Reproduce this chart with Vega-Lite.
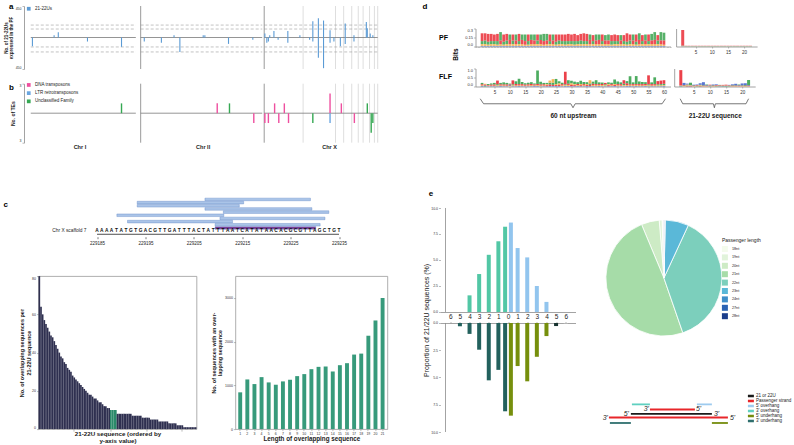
{
"padding": {"left": 2.5, "top": 2, "right": 0, "bottom": 0},
"spacing": 33,
"resolve": {"scale": {"color": "independent"}, "legend": {"color": "independent"}},
"datasets": {
"scaf": [{"pos":282},{"pos":315.3},{"pos":323.7},{"pos":332},{"pos":338.7},{"pos":343.7},{"pos":350.3},{"pos":355.3},{"pos":358.7}],
"chrdiv": [{"pos":115},{"pos":242}],
"segs": [{"x1":2,"x2":110},{"x1":115,"x2":240},{"x1":242,"x2":358.7}],
"dashA": [{"x1":2,"x2":110,"y":15},{"x1":115,"x2":240,"y":15},{"x1":242,"x2":358.7,"y":15},
{"x1":2,"x2":110,"y":6.6},{"x1":115,"x2":240,"y":6.6},{"x1":242,"x2":358.7,"y":6.6},
{"x1":2,"x2":110,"y":-8.2},{"x1":115,"x2":240,"y":-8.2},{"x1":242,"x2":358.7,"y":-8.2},
{"x1":2,"x2":110,"y":-22},{"x1":115,"x2":240,"y":-22},{"x1":242,"x2":358.7,"y":-22}],
"sRNA": [{"pos":3.7,"n":-7},{"pos":26,"n":1},{"pos":30.3,"n":3},{"pos":60.3,"n":-2},{"pos":95.3,"n":-8},
{"pos":118.7,"n":-2},{"pos":136.3,"n":-3},{"pos":149.3,"n":1},{"pos":155.3,"n":-22},{"pos":179.3,"n":1},{"pos":181,"n":1},{"pos":205.3,"n":-4},{"pos":230.3,"n":-1},
{"pos":242.7,"n":2},{"pos":244.7,"n":-3},{"pos":246.3,"n":-2},{"pos":247.7,"n":1},{"pos":252,"n":4},{"pos":256.3,"n":-1},{"pos":266.3,"n":4},{"pos":266.3,"n":-3},{"pos":278.7,"n":1},{"pos":288.7,"n":-1},
{"pos":292,"n":31},{"pos":292,"n":-2},{"pos":297.7,"n":54},{"pos":297.7,"n":-64},{"pos":303,"n":35},{"pos":303,"n":-390},{"pos":309.7,"n":5},{"pos":309.7,"n":-3},{"pos":313.7,"n":-2},{"pos":320.3,"n":-7},
{"pos":325.3,"n":20},{"pos":325.3,"n":-4},{"pos":334.3,"n":1},{"pos":334.3,"n":-2},{"pos":347,"n":27},{"pos":348,"n":8},{"pos":351,"n":2},{"pos":353.7,"n":1}],
"te": [{"pos":95.3,"n":1,"f":"Unclassified Family"},{"pos":193.7,"n":1,"f":"DNA transposons"},{"pos":206.3,"n":1,"f":"Unclassified Family"},{"pos":231.3,"n":-1,"f":"DNA transposons"},
{"pos":242.7,"n":-1,"f":"DNA transposons"},{"pos":246.3,"n":-1,"f":"DNA transposons"},{"pos":252.7,"n":1,"f":"DNA transposons"},{"pos":257,"n":-1,"f":"DNA transposons"},{"pos":262.7,"n":1,"f":"DNA transposons"},{"pos":267,"n":-1,"f":"DNA transposons"},
{"pos":292,"n":-1,"f":"Unclassified Family"},{"pos":309.7,"n":2,"f":"DNA transposons"},{"pos":309.7,"n":-1,"f":"LTR retrotransposons"},{"pos":321.3,"n":1,"f":"DNA transposons"},{"pos":334.7,"n":-1,"f":"DNA transposons"},
{"pos":348,"n":1,"f":"Unclassified Family"},{"pos":352,"n":-2,"f":"Unclassified Family"},{"pos":353.7,"n":-1,"f":"Unclassified Family"}],
"reads": [{"s":229207.3,"e":229229.1,"lane":1,"k":"read"},{"s":229193.3,"e":229215.3,"lane":2,"k":"read"},{"s":229193.3,"e":229214.4,"lane":3,"k":"read"},{"s":229207.3,"e":229229.4,"lane":4,"k":"read"},{"s":229211.1,"e":229232.9,"lane":5,"k":"read"},{"s":229189.1,"e":229211.2,"lane":6,"k":"read"},{"s":229210.4,"e":229232.1,"lane":7,"k":"read"},{"s":229191.3,"e":229213.0,"lane":8,"k":"read"},{"s":229209.4,"e":229231.1,"lane":9,"k":"read"},{"s":229209.4,"e":229230.2,"lane":10,"k":"target"}],
"seq": [{"p":229185,"b":"A"},{"p":229186,"b":"A"},{"p":229187,"b":"A"},{"p":229188,"b":"A"},{"p":229189,"b":"T"},{"p":229190,"b":"A"},{"p":229191,"b":"T"},{"p":229192,"b":"G"},{"p":229193,"b":"T"},{"p":229194,"b":"G"},{"p":229195,"b":"A"},{"p":229196,"b":"C"},{"p":229197,"b":"G"},{"p":229198,"b":"T"},{"p":229199,"b":"T"},{"p":229200,"b":"G"},{"p":229201,"b":"A"},{"p":229202,"b":"T"},{"p":229203,"b":"T"},{"p":229204,"b":"T"},{"p":229205,"b":"A"},{"p":229206,"b":"C"},{"p":229207,"b":"T"},{"p":229208,"b":"A"},{"p":229209,"b":"T"},{"p":229210,"b":"T"},{"p":229211,"b":"T"},{"p":229212,"b":"A"},{"p":229213,"b":"A"},{"p":229214,"b":"T"},{"p":229215,"b":"C"},{"p":229216,"b":"A"},{"p":229217,"b":"T"},{"p":229218,"b":"A"},{"p":229219,"b":"T"},{"p":229220,"b":"A"},{"p":229221,"b":"A"},{"p":229222,"b":"C"},{"p":229223,"b":"A"},{"p":229224,"b":"C"},{"p":229225,"b":"G"},{"p":229226,"b":"C"},{"p":229227,"b":"G"},{"p":229228,"b":"T"},{"p":229229,"b":"T"},{"p":229230,"b":"A"},{"p":229231,"b":"G"},{"p":229232,"b":"C"},{"p":229233,"b":"T"},{"p":229234,"b":"G"},{"p":229235,"b":"T"}],
"cbl": [{"i":0,"n":80,"g":"o"},{"i":1,"n":64,"g":"o"},{"i":2,"n":60,"g":"o"},{"i":3,"n":57,"g":"o"},{"i":4,"n":55,"g":"o"},{"i":5,"n":53,"g":"o"},{"i":6,"n":51,"g":"o"},{"i":7,"n":49,"g":"o"},{"i":8,"n":48,"g":"o"},{"i":9,"n":46,"g":"o"},
{"i":10,"n":44,"g":"o"},{"i":11,"n":42,"g":"o"},{"i":12,"n":40,"g":"o"},{"i":13,"n":38,"g":"o"},{"i":14,"n":37,"g":"o"},{"i":15,"n":35,"g":"o"},{"i":16,"n":34,"g":"o"},{"i":17,"n":32,"g":"o"},{"i":18,"n":31,"g":"o"},{"i":19,"n":30,"g":"o"},
{"i":20,"n":28,"g":"o"},{"i":21,"n":27,"g":"o"},{"i":22,"n":26,"g":"o"},{"i":23,"n":25,"g":"o"},{"i":24,"n":24,"g":"o"},{"i":25,"n":23,"g":"o"},{"i":26,"n":22,"g":"o"},{"i":27,"n":21,"g":"o"},{"i":28,"n":20,"g":"o"},{"i":29,"n":19,"g":"o"},
{"i":30,"n":18,"g":"o"},{"i":31,"n":18,"g":"o"},{"i":32,"n":17,"g":"o"},{"i":33,"n":16,"g":"o"},{"i":34,"n":16,"g":"o"},{"i":35,"n":15,"g":"o"},{"i":36,"n":14,"g":"o"},{"i":37,"n":14,"g":"o"},{"i":38,"n":13,"g":"o"},{"i":39,"n":12,"g":"o"},
{"i":40,"n":12,"g":"o"},{"i":41,"n":11,"g":"o"},{"i":42,"n":11,"g":"o"},{"i":43,"n":10,"g":"s"},{"i":44,"n":10,"g":"s"},{"i":45,"n":10,"g":"s"},{"i":46,"n":10,"g":"s"},{"i":47,"n":8,"g":"o"},{"i":48,"n":8,"g":"o"},{"i":49,"n":8,"g":"o"},
{"i":50,"n":8,"g":"o"},{"i":51,"n":8,"g":"o"},{"i":52,"n":8,"g":"o"},{"i":53,"n":8,"g":"o"},{"i":54,"n":8,"g":"o"},{"i":55,"n":8,"g":"o"},{"i":56,"n":7,"g":"o"},{"i":57,"n":7,"g":"o"},{"i":58,"n":7,"g":"o"},{"i":59,"n":7,"g":"o"},
{"i":60,"n":7,"g":"o"},{"i":61,"n":7,"g":"o"},{"i":62,"n":6,"g":"o"},{"i":63,"n":6,"g":"o"},{"i":64,"n":6,"g":"o"},{"i":65,"n":6,"g":"o"},{"i":66,"n":6,"g":"o"},{"i":67,"n":5,"g":"o"},{"i":68,"n":5,"g":"o"},{"i":69,"n":5,"g":"o"},
{"i":70,"n":5,"g":"o"},{"i":71,"n":5,"g":"o"},{"i":72,"n":4,"g":"o"},{"i":73,"n":4,"g":"o"},{"i":74,"n":4,"g":"o"},{"i":75,"n":4,"g":"o"},{"i":76,"n":4,"g":"o"},{"i":77,"n":4,"g":"o"},{"i":78,"n":3,"g":"o"},{"i":79,"n":3,"g":"o"},
{"i":80,"n":3,"g":"o"},{"i":81,"n":3,"g":"o"},{"i":82,"n":3,"g":"o"},{"i":83,"n":2,"g":"o"},{"i":84,"n":2,"g":"o"},{"i":85,"n":2,"g":"o"},{"i":86,"n":2,"g":"o"},{"i":87,"n":1,"g":"o"},{"i":88,"n":1,"g":"o"},{"i":89,"n":1,"g":"o"},
{"i":90,"n":1,"g":"o"},{"i":91,"n":1,"g":"o"},{"i":92,"n":1,"g":"o"},{"i":93,"n":1,"g":"o"},{"i":94,"n":1,"g":"o"}],
"cbr": [{"len":1,"n":841},{"len":2,"n":1136},{"len":3,"n":1030},{"len":4,"n":1189},{"len":5,"n":1068},{"len":6,"n":1015},{"len":7,"n":1091},{"len":8,"n":1129},{"len":9,"n":1212},{"len":10,"n":1258},{"len":11,"n":1371},{"len":12,"n":1424},{"len":13,"n":1432},{"len":14,"n":1318},{"len":15,"n":1462},{"len":16,"n":1508},{"len":17,"n":1705},{"len":18,"n":1727},{"len":19,"n":2136},{"len":20,"n":2485},{"len":21,"n":3000}],
"pfl": [{"p":1,"T":0.13,"A":0.05,"G":0.03,"C":0.01},{"p":2,"T":0.12,"A":0.06,"G":0.03,"C":0.01},{"p":3,"T":0.13,"A":0.05,"G":0.02,"C":0.01},{"p":4,"T":0.12,"A":0.05,"G":0.03,"C":0.01},{"p":5,"T":0.11,"A":0.05,"G":0.03,"C":0.01},{"p":6,"T":0.12,"A":0.06,"G":0.02,"C":0.01},{"p":7,"T":0.06,"A":0.14,"G":0.03,"C":0.01},{"p":8,"T":0.12,"A":0.05,"G":0.02,"C":0.01},{"p":9,"T":0.11,"A":0.06,"G":0.03,"C":0.01},{"p":10,"T":0.07,"A":0.09,"G":0.03,"C":0.01},
{"p":11,"T":0.10,"A":0.06,"G":0.03,"C":0.01},{"p":12,"T":0.06,"A":0.10,"G":0.03,"C":0.01},{"p":13,"T":0.12,"A":0.05,"G":0.03,"C":0.01},{"p":14,"T":0.07,"A":0.09,"G":0.03,"C":0.01},{"p":15,"T":0.06,"A":0.11,"G":0.02,"C":0.01},{"p":16,"T":0.11,"A":0.06,"G":0.02,"C":0.01},{"p":17,"T":0.07,"A":0.09,"G":0.03,"C":0.01},{"p":18,"T":0.06,"A":0.10,"G":0.03,"C":0.01},{"p":19,"T":0.10,"A":0.06,"G":0.03,"C":0.01},{"p":20,"T":0.07,"A":0.09,"G":0.03,"C":0.01},
{"p":21,"T":0.06,"A":0.12,"G":0.02,"C":0.01},{"p":22,"T":0.06,"A":0.11,"G":0.03,"C":0.01},{"p":23,"T":0.11,"A":0.05,"G":0.03,"C":0.01},{"p":24,"T":0.06,"A":0.10,"G":0.03,"C":0.01},{"p":25,"T":0.12,"A":0.05,"G":0.02,"C":0.01},{"p":26,"T":0.10,"A":0.06,"G":0.03,"C":0.01},{"p":27,"T":0.11,"A":0.05,"G":0.03,"C":0.01},{"p":28,"T":0.11,"A":0.06,"G":0.02,"C":0.01},{"p":29,"T":0.12,"A":0.05,"G":0.03,"C":0.01},{"p":30,"T":0.11,"A":0.05,"G":0.03,"C":0.01},
{"p":31,"T":0.12,"A":0.06,"G":0.02,"C":0.01},{"p":32,"T":0.10,"A":0.05,"G":0.03,"C":0.01},{"p":33,"T":0.11,"A":0.06,"G":0.03,"C":0.01},{"p":34,"T":0.13,"A":0.05,"G":0.03,"C":0.01},{"p":35,"T":0.12,"A":0.05,"G":0.03,"C":0.01},{"p":36,"T":0.07,"A":0.09,"G":0.03,"C":0.01},{"p":37,"T":0.10,"A":0.05,"G":0.03,"C":0.01},{"p":38,"T":0.06,"A":0.10,"G":0.03,"C":0.01},{"p":39,"T":0.07,"A":0.09,"G":0.03,"C":0.01},{"p":40,"T":0.11,"A":0.05,"G":0.03,"C":0.01},
{"p":41,"T":0.06,"A":0.09,"G":0.03,"C":0.01},{"p":42,"T":0.06,"A":0.10,"G":0.03,"C":0.01},{"p":43,"T":0.10,"A":0.06,"G":0.02,"C":0.01},{"p":44,"T":0.11,"A":0.05,"G":0.03,"C":0.01},{"p":45,"T":0.10,"A":0.05,"G":0.03,"C":0.01},{"p":46,"T":0.06,"A":0.09,"G":0.03,"C":0.01},{"p":47,"T":0.10,"A":0.05,"G":0.03,"C":0.01},{"p":48,"T":0.14,"A":0.05,"G":0.02,"C":0.01},{"p":49,"T":0.10,"A":0.06,"G":0.03,"C":0.01},{"p":50,"T":0.06,"A":0.10,"G":0.03,"C":0.01},
{"p":51,"T":0.12,"A":0.05,"G":0.02,"C":0.01},{"p":52,"T":0.07,"A":0.11,"G":0.03,"C":0.01},{"p":53,"T":0.10,"A":0.05,"G":0.03,"C":0.01},{"p":54,"T":0.06,"A":0.10,"G":0.03,"C":0.01},{"p":55,"T":0.11,"A":0.05,"G":0.03,"C":0.01},{"p":56,"T":0.06,"A":0.11,"G":0.03,"C":0.01},{"p":57,"T":0.07,"A":0.13,"G":0.03,"C":0.01},{"p":58,"T":0.09,"A":0.06,"G":0.03,"C":0.01},{"p":59,"T":0.06,"A":0.14,"G":0.03,"C":0.01},{"p":60,"T":0.07,"A":0.13,"G":0.02,"C":0.01}],
"flfl": [{"p":1,"T":0.05,"A":0.08,"G":0.04,"C":0.03},{"p":2,"T":0.04,"A":0.03,"G":0.05,"C":0.03},{"p":3,"T":0.03,"A":0.06,"G":0.03,"C":0.02},{"p":4,"T":0.05,"A":0.07,"G":0.03,"C":0.02},{"p":5,"T":0.06,"A":0.09,"G":0.03,"C":0.02},{"p":6,"T":0.2,"A":0.07,"G":0.04,"C":0.02},{"p":7,"T":0.06,"A":0.08,"G":0.03,"C":0.03},{"p":8,"T":0.05,"A":0.12,"G":0.04,"C":0.02},{"p":9,"T":0.06,"A":0.09,"G":0.03,"C":0.02},{"p":10,"T":0.04,"A":0.05,"G":0.03,"C":0.04},
{"p":11,"T":0.22,"A":0.06,"G":0.04,"C":0.02},{"p":12,"T":0.08,"A":0.15,"G":0.04,"C":0.02},{"p":13,"T":0.06,"A":0.3,"G":0.04,"C":0.03},{"p":14,"T":0.07,"A":0.12,"G":0.04,"C":0.02},{"p":15,"T":0.05,"A":0.08,"G":0.03,"C":0.02},{"p":16,"T":0.06,"A":0.09,"G":0.04,"C":0.02},{"p":17,"T":0.07,"A":0.1,"G":0.05,"C":0.02},{"p":18,"T":0.05,"A":0.06,"G":0.03,"C":0.03},{"p":19,"T":0.06,"A":0.75,"G":0.05,"C":0.03},{"p":20,"T":0.05,"A":0.15,"G":0.04,"C":0.02},
{"p":21,"T":0.06,"A":0.08,"G":0.04,"C":0.02},{"p":22,"T":0.05,"A":0.07,"G":0.06,"C":0.02},{"p":23,"T":0.08,"A":0.1,"G":0.12,"C":0.03},{"p":24,"T":0.06,"A":0.12,"G":0.2,"C":0.03},{"p":25,"T":0.05,"A":0.28,"G":0.06,"C":0.03},{"p":26,"T":0.06,"A":0.12,"G":0.08,"C":0.03},{"p":27,"T":0.06,"A":0.08,"G":0.05,"C":0.02},{"p":28,"T":0.7,"A":0.05,"G":0.04,"C":0.03},{"p":29,"T":0.06,"A":0.2,"G":0.06,"C":0.03},{"p":30,"T":0.07,"A":0.15,"G":0.08,"C":0.02},
{"p":31,"T":0.05,"A":0.14,"G":0.06,"C":0.02},{"p":32,"T":0.06,"A":0.1,"G":0.05,"C":0.03},{"p":33,"T":0.05,"A":0.18,"G":0.07,"C":0.02},{"p":34,"T":0.06,"A":0.12,"G":0.05,"C":0.02},{"p":35,"T":0.05,"A":0.1,"G":0.06,"C":0.03},{"p":36,"T":0.06,"A":0.08,"G":0.18,"C":0.03},{"p":37,"T":0.07,"A":0.12,"G":0.06,"C":0.02},{"p":38,"T":0.06,"A":0.22,"G":0.05,"C":0.02},{"p":39,"T":0.05,"A":0.1,"G":0.05,"C":0.03},{"p":40,"T":0.06,"A":0.08,"G":0.06,"C":0.02},
{"p":41,"T":0.08,"A":0.06,"G":0.04,"C":0.02},{"p":42,"T":0.05,"A":0.1,"G":0.06,"C":0.02},{"p":43,"T":0.06,"A":0.08,"G":0.05,"C":0.02},{"p":44,"T":0.05,"A":0.25,"G":0.06,"C":0.03},{"p":45,"T":0.06,"A":0.15,"G":0.05,"C":0.02},{"p":46,"T":0.07,"A":0.1,"G":0.04,"C":0.02},{"p":47,"T":0.2,"A":0.08,"G":0.05,"C":0.02},{"p":48,"T":0.1,"A":0.12,"G":0.05,"C":0.03},{"p":49,"T":0.05,"A":0.45,"G":0.04,"C":0.03},{"p":50,"T":0.06,"A":0.1,"G":0.05,"C":0.02},
{"p":51,"T":0.05,"A":0.45,"G":0.05,"C":0.03},{"p":52,"T":0.06,"A":0.15,"G":0.05,"C":0.02},{"p":53,"T":0.07,"A":0.12,"G":0.04,"C":0.02},{"p":54,"T":0.06,"A":0.1,"G":0.05,"C":0.03},{"p":55,"T":0.5,"A":0.06,"G":0.04,"C":0.02},{"p":56,"T":0.07,"A":0.1,"G":0.04,"C":0.02},{"p":57,"T":0.06,"A":0.38,"G":0.05,"C":0.02},{"p":58,"T":0.18,"A":0.06,"G":0.04,"C":0.02},{"p":59,"T":0.2,"A":0.07,"G":0.04,"C":0.02},{"p":60,"T":0.2,"A":0.08,"G":0.04,"C":0.03}],
"pfr": [{"p":1,"T":0.26,"A":0.006,"G":0.005,"C":0.004},{"p":2,"T":0.004,"A":0.003,"G":0.003,"C":0.002},{"p":3,"T":0.004,"A":0.003,"G":0.003,"C":0.002},{"p":4,"T":0.004,"A":0.003,"G":0.003,"C":0.002},{"p":5,"T":0.004,"A":0.003,"G":0.003,"C":0.002},{"p":6,"T":0.004,"A":0.003,"G":0.003,"C":0.002},{"p":7,"T":0.004,"A":0.003,"G":0.003,"C":0.002},{"p":8,"T":0.004,"A":0.003,"G":0.003,"C":0.002},{"p":9,"T":0.004,"A":0.003,"G":0.003,"C":0.002},{"p":10,"T":0.004,"A":0.003,"G":0.003,"C":0.002},{"p":11,"T":0.004,"A":0.003,"G":0.003,"C":0.002},{"p":12,"T":0.004,"A":0.003,"G":0.003,"C":0.002},{"p":13,"T":0.004,"A":0.003,"G":0.003,"C":0.002},{"p":14,"T":0.004,"A":0.003,"G":0.003,"C":0.002},{"p":15,"T":0.004,"A":0.003,"G":0.003,"C":0.002},{"p":16,"T":0.004,"A":0.003,"G":0.003,"C":0.002},{"p":17,"T":0.004,"A":0.003,"G":0.003,"C":0.002},{"p":18,"T":0.004,"A":0.003,"G":0.003,"C":0.002},{"p":19,"T":0.004,"A":0.003,"G":0.003,"C":0.002},{"p":20,"T":0.004,"A":0.003,"G":0.003,"C":0.002},{"p":21,"T":0.004,"A":0.003,"G":0.003,"C":0.002},{"p":22,"T":0.004,"A":0.003,"G":0.003,"C":0.002}],
"flfr": [{"p":1,"T":0.85,"A":0.02,"G":0.02,"C":0.02},{"p":2,"T":0.03,"A":0.03,"G":0.02,"C":0.12},{"p":3,"T":0.02,"A":0.03,"G":0.05,"C":0.06},{"p":4,"T":0.02,"A":0.13,"G":0.03,"C":0.03},{"p":5,"T":0.02,"A":0.03,"G":0.02,"C":0.03},{"p":6,"T":0.03,"A":0.02,"G":0.02,"C":0.04},{"p":7,"T":0.02,"A":0.03,"G":0.04,"C":0.09},{"p":8,"T":0.02,"A":0.03,"G":0.02,"C":0.17},{"p":9,"T":0.02,"A":0.04,"G":0.02,"C":0.03},{"p":10,"T":0.03,"A":0.02,"G":0.02,"C":0.03},{"p":11,"T":0.02,"A":0.03,"G":0.02,"C":0.04},
{"p":12,"T":0.03,"A":0.02,"G":0.02,"C":0.05},{"p":13,"T":0.02,"A":0.03,"G":0.02,"C":0.02},{"p":14,"T":0.03,"A":0.02,"G":0.02,"C":0.02},{"p":15,"T":0.04,"A":0.02,"G":0.02,"C":0.02},{"p":16,"T":0.02,"A":0.02,"G":0.02,"C":0.03},{"p":17,"T":0.02,"A":0.03,"G":0.02,"C":0.05},{"p":18,"T":0.02,"A":0.03,"G":0.02,"C":0.08},{"p":19,"T":0.02,"A":0.04,"G":0.02,"C":0.03},{"p":20,"T":0.02,"A":0.03,"G":0.02,"C":0.1},{"p":21,"T":0.02,"A":0.04,"G":0.02,"C":0.1},{"p":22,"T":0.02,"A":0.28,"G":0.02,"C":0.04}],
"brace60": [{"o":1,"bx":0.4,"by":-0.68},{"o":2,"bx":1.5,"by":-0.96},{"o":3,"bx":29.8,"by":-0.96},{"o":4,"bx":30.5,"by":-1.18},{"o":5,"bx":31.2,"by":-0.96},{"o":6,"bx":59.4,"by":-0.96},{"o":7,"bx":60.5,"by":-0.68}],
"brace22": [{"o":1,"bx":0.8,"by":-0.68},{"o":2,"bx":1.6,"by":-0.96},{"o":3,"bx":11.1,"by":-0.96},{"o":4,"bx":11.4,"by":-1.18},{"o":5,"bx":11.7,"by":-0.96},{"o":6,"bx":21.2,"by":-0.96},{"o":7,"bx":22,"by":-0.68}],
"etop": [{"x":-4,"v":1.6,"g":"3o"},{"x":-3,"v":3.65,"g":"3o"},{"x":-2,"v":5.5,"g":"3o"},{"x":-1,"v":6.8,"g":"3o"},{"x":-0.3,"v":8.2,"g":"3o"},{"x":0.3,"v":8.6,"g":"5o"},{"x":1,"v":6.15,"g":"5o"},{"x":2,"v":5.25,"g":"5o"},{"x":3,"v":2.5,"g":"5o"},{"x":4,"v":0.97,"g":"5o"}],
"ebot": [{"x":-5,"v":0.3,"g":"3u"},{"x":-4,"v":1.0,"g":"3u"},{"x":-3,"v":2.45,"g":"3u"},{"x":-2,"v":5.26,"g":"3u"},{"x":-1,"v":4.3,"g":"3u"},{"x":-0.3,"v":8.1,"g":"3u"},{"x":0.3,"v":8.5,"g":"5u"},{"x":1,"v":3.95,"g":"5u"},{"x":2,"v":5.35,"g":"5u"},{"x":3,"v":3.1,"g":"5u"},{"x":4,"v":1.2,"g":"5u"},{"x":5,"v":0.28,"g":"dk"},{"x":6,"v":0.05,"g":"lt"}],
"pie": [{"len":"18nt","n":18,"pct":0.5},{"len":"19nt","n":19,"pct":0.8},{"len":"20nt","n":20,"pct":5},{"len":"21nt","n":21,"pct":49},{"len":"22nt","n":22,"pct":37.8},{"len":"23nt","n":23,"pct":6.5},{"len":"24nt","n":24,"pct":0.2},{"len":"27nt","n":27,"pct":0.1},{"len":"28nt","n":28,"pct":0.1}],
"diag": [{"x1":1,"x2":40.67,"y":24,"c":"Passenger strand"},{"x1":14.67,"x2":29.67,"y":13,"c":"Passenger strand"},{"x1":8.33,"x2":35.33,"y":19,"c":"21 or 22U"},{"x1":8.67,"x2":14.67,"y":6,"c":"3' overhang"},{"x1":30.33,"x2":35.33,"y":6,"c":"5' overhang"},{"x1":1.33,"x2":8.33,"y":31.5,"c":"3' underhang"},{"x1":35.33,"x2":40.67,"y":31.5,"c":"5' underhang"}],
"endsR": [{"x":14.33,"y":13,"t":"3'"},{"x":7.67,"y":19,"t":"5'"},{"x":0.67,"y":24.3,"t":"3'"}],
"endsL": [{"x":30,"y":13,"t":"5'"},{"x":36,"y":19,"t":"3'"},{"x":41.33,"y":24.3,"t":"5'"}]
},
"hconcat": [
{
"vconcat": [
{
"width": 365.5, "height": 63,
"layer": [
{"data": {"name": "scaf"}, "mark": {"type": "rule", "color": "#dedede", "strokeWidth": 1},
 "encoding": {"x": {"field": "pos", "type": "quantitative", "scale": {"domain": [-6.5, 359], "nice": false, "zero": false}, "axis": null}}},
{"data": {"name": "chrdiv"}, "mark": {"type": "rule", "color": "#9a9a9a", "strokeWidth": 1},
 "encoding": {"x": {"field": "pos", "type": "quantitative", "axis": null}}},
{"data": {"name": "dashA"}, "mark": {"type": "rule", "color": "#9a9a9a", "strokeWidth": 0.6, "strokeDash": [3, 2]},
 "encoding": {"x": {"field": "x1", "type": "quantitative", "axis": null}, "x2": {"field": "x2"}, "y": {"field": "y", "type": "quantitative", "scale": {"type": "symlog", "constant": 2, "domain": [-450, 450], "nice": false}}}},
{"data": {"name": "segs"}, "mark": {"type": "rule", "color": "#7a7a7a", "strokeWidth": 0.8},
 "encoding": {"x": {"field": "x1", "type": "quantitative", "axis": null}, "x2": {"field": "x2"}, "y": {"datum": 0}}},
{"data": {"name": "sRNA"}, "mark": {"type": "bar", "width": 1.1, "orient": "vertical"},
 "encoding": {
  "x": {"field": "pos", "type": "quantitative", "axis": null},
  "y": {"field": "n", "type": "quantitative", "scale": {"type": "symlog", "constant": 2, "domain": [-450, 450], "nice": false}, "axis": {"values": [-450, -10, 0, 10, 450], "labelExpr": "abs(datum.value)", "labelFlush": true, "labelOverlap": false, "title": ["No. of 21-22Us", "expressed in the PF"], "titleFontSize": 4.5, "titleLineHeight": 5, "labelFontSize": 3.5, "offset": -6.5, "titlePadding": 2}},
  "y2": {"datum": 0},
  "color": {"datum": "21-22Us", "type": "nominal", "scale": {"range": ["#5b9bd5"]}, "legend": {"orient": "none", "legendX": 9, "legendY": 0.5, "title": null, "symbolType": "square", "symbolSize": 14, "labelFontSize": 4.5}}}},
{"data": {"values": [{}]}, "mark": {"type": "text", "text": "a", "fontSize": 8, "fontWeight": "bold", "align": "left", "baseline": "middle"},
 "encoding": {"x": {"datum": -20.5}, "y": {"datum": 380}}}
]
},
{
"width": 365.5, "height": 59,
"layer": [
{"data": {"name": "scaf"}, "mark": {"type": "rule", "color": "#dedede", "strokeWidth": 1},
 "encoding": {"x": {"field": "pos", "type": "quantitative", "scale": {"domain": [-6.5, 359], "nice": false, "zero": false}}}},
{"data": {"name": "chrdiv"}, "mark": {"type": "rule", "color": "#9a9a9a", "strokeWidth": 1},
 "encoding": {"x": {"field": "pos", "type": "quantitative"}}},
{"data": {"name": "segs"}, "mark": {"type": "rule", "color": "#7a7a7a", "strokeWidth": 0.8},
 "encoding": {"x": {"field": "x1", "type": "quantitative"}, "x2": {"field": "x2"}, "y": {"datum": 0}}},
{"data": {"name": "te"}, "mark": {"type": "bar", "width": 1.4, "orient": "vertical"},
 "encoding": {
  "x": {"field": "pos", "type": "quantitative", "axis": {"values": [52, 178.7, 308.7], "labelExpr": "datum.value < 100 ? 'Chr I' : (datum.value < 250 ? 'Chr II' : 'Chr X')", "labelOverlap": false, "domain": false, "ticks": false, "labelFontSize": 5.5, "labelFontWeight": "bold", "labelColor": "#222222", "labelPadding": 1.5, "title": null}},
  "y": {"field": "n", "type": "quantitative", "scale": {"domain": [-3, 3], "nice": false}, "axis": {"values": [-3, 0, 3], "labelExpr": "abs(datum.value)", "labelFlush": true, "title": "No. of TEs", "titleFontSize": 5, "labelFontSize": 3.5, "offset": -6.5, "titlePadding": 4}},
  "y2": {"datum": 0},
  "color": {"field": "f", "type": "nominal", "scale": {"domain": ["DNA transposons", "LTR retrotransposons", "Unclassified Family"], "range": ["#ee4f9f", "#6aa6e0", "#35a853"]}, "legend": {"orient": "none", "legendX": 9, "legendY": -1, "title": null, "symbolType": "square", "symbolSize": 14, "labelFontSize": 4.5, "rowPadding": 2.2}}}},
{"data": {"values": [{}]}, "mark": {"type": "text", "text": "b", "fontSize": 8, "fontWeight": "bold", "align": "left", "baseline": "middle"},
 "encoding": {"x": {"datum": -20.5}, "y": {"datum": 2.56}}}
]
},
{
"width": 365.5, "height": 99.9,
"layer": [
{"data": {"name": "reads"}, "mark": {"type": "bar", "orient": "horizontal", "height": 2.6, "stroke": "#5f86c4", "strokeWidth": 0.4},
 "encoding": {"x": {"field": "s", "type": "quantitative", "scale": {"domain": [229168.57, 229244.09], "nice": false, "zero": false}}, "x2": {"field": "e"},
  "y": {"field": "lane", "type": "quantitative", "scale": {"domain": [-9.11, 19.27], "nice": false, "zero": false, "reverse": true}, "axis": null},
  "color": {"field": "k", "type": "nominal", "scale": {"domain": ["read", "target"], "range": ["#aac4e8", "#7b3f98"]}, "legend": null}}},
{"data": {"values": [{}]}, "mark": {"type": "rule", "color": "#222222", "strokeWidth": 0.8},
 "encoding": {"x": {"datum": 229185}, "x2": {"datum": 229235}, "y": {"datum": 12, "axis": null}}},
{"data": {"name": "seq"}, "mark": {"type": "text", "fontSize": 4.8, "fontWeight": "bold", "baseline": "middle", "color": "#111111"},
 "encoding": {"x": {"field": "p", "type": "quantitative", "axis": {"values": [229185, 229190, 229195, 229200, 229205, 229210, 229215, 229220, 229225, 229230, 229235], "format": "d", "labelExpr": "(datum.value - 229185) % 10 == 0 ? datum.label : ''", "labelOverlap": false, "domain": false, "tickColor": "#222222", "tickSize": 2, "labelFontSize": 4.5, "labelColor": "#222222", "labelPadding": 1.5, "offset": -25.6, "title": null}},
  "y": {"datum": 11, "axis": null}, "text": {"field": "b"}}},
{"data": {"values": [{}]}, "mark": {"type": "text", "text": "Chr X scaffold 7", "fontSize": 4.8, "align": "right", "baseline": "middle", "color": "#222222"},
 "encoding": {"x": {"datum": 229182.8}, "y": {"datum": 11, "axis": null}}},
{"data": {"values": [{}]}, "mark": {"type": "text", "text": "c", "fontSize": 8, "fontWeight": "bold", "align": "left", "baseline": "middle"},
 "encoding": {"x": {"datum": 229165.68}, "y": {"datum": 2.7, "axis": null}}}
]
},
{
"hconcat": [
{"width": 1, "height": 1, "data": {"values": []}, "mark": "point"},
{
"hconcat": [
{
"width": 158, "height": 153,
"view": {"stroke": "#9a9a9a", "strokeWidth": 0.8},
"data": {"name": "cbl"},
"mark": {"type": "bar"},
"encoding": {
 "x": {"field": "i", "type": "ordinal", "scale": {"paddingInner": 0, "paddingOuter": 0}, "axis": {"values": [21, 43, 65, 86], "labels": false, "tickSize": 2, "domain": false, "title": ["21-22U sequence (ordered by", "y-axis value)"], "titleFontSize": 6.2, "titleLineHeight": 7.5, "titlePadding": -1}},
 "y": {"field": "n", "type": "quantitative", "scale": {"domain": [0, 80], "nice": false}, "axis": {"values": [0, 20, 40, 60, 80], "labelFlush": true, "domain": false, "labelFontSize": 3.5, "title": ["No. of overlapping sequences per", "21-22U sequence"], "titleFontSize": 5.5, "titleLineHeight": 6.5, "titlePadding": 0.5}},
 "color": {"field": "g", "type": "nominal", "scale": {"domain": ["o", "s"], "range": ["#2f3050", "#2b8a6a"]}, "legend": null}}
},
{
"width": 152, "height": 153,
"view": {"stroke": "#9a9a9a", "strokeWidth": 0.8},
"data": {"name": "cbr"},
"mark": {"type": "bar", "color": "#379a7b"},
"encoding": {
 "x": {"field": "len", "type": "ordinal", "scale": {"paddingInner": 0.45, "paddingOuter": 0.4}, "axis": {"labelAngle": 0, "labelOverlap": false, "labelFontSize": 3.5, "tickSize": 1.5, "domain": false, "title": "Length of overlapping sequence", "titleFontSize": 6.3, "titlePadding": 0}},
 "y": {"field": "n", "type": "quantitative", "scale": {"domain": [0, 3500], "nice": false}, "axis": {"values": [0, 1000, 2000, 3000], "format": "d", "domain": false, "labelFontSize": 3.5, "title": ["No. of sequences with an over-", "lapping sequence"], "titleFontSize": 5.5, "titleLineHeight": 6.5}}}
}
],
"spacing": 12.9,
"resolve": {"scale": {"color": "independent"}, "legend": {"color": "independent"}}
}
],
"spacing": 0,
"resolve": {"scale": {"color": "independent"}, "legend": {"color": "independent"}}
}
],
"spacing": 12.7,
"resolve": {"scale": {"color": "independent"}, "legend": {"color": "independent"}}
},
{
"vconcat": [
{
"width": 10, "height": 4,
"data": {"values": [{}]},
"mark": {"type": "text", "text": "d", "fontSize": 8, "fontWeight": "bold", "align": "left", "baseline": "middle", "color": "#000000"},
"encoding": {"x": {"datum": -18, "scale": {"domain": [0, 10], "nice": false, "zero": false}, "axis": null}, "y": {"datum": 1, "scale": {"domain": [0, 4], "nice": false, "zero": false, "reverse": true}, "axis": null}}
},
{
"vconcat": [
{
"hconcat": [
{
"width": 23.2, "height": 57,
"layer": [
{"data": {"values": [{}]}, "mark": {"type": "text", "text": "PF", "fontSize": 7, "fontWeight": "bold", "baseline": "middle", "align": "center"},
 "encoding": {"x": {"datum": 3, "scale": {"domain": [0, 23.2], "nice": false, "zero": false}, "axis": null}, "y": {"datum": 9, "scale": {"domain": [0, 57], "nice": false, "zero": false, "reverse": true}, "axis": null}}},
{"data": {"values": [{}]}, "mark": {"type": "text", "text": "FLF", "fontSize": 7, "fontWeight": "bold", "baseline": "middle", "align": "center"},
 "encoding": {"x": {"datum": 5, "axis": null}, "y": {"datum": 48, "axis": null}}},
{"data": {"values": [{}]}, "mark": {"type": "text", "text": "Bits", "fontSize": 6.5, "fontWeight": "bold", "baseline": "middle", "align": "center", "angle": 270},
 "encoding": {"x": {"datum": 15, "axis": null}, "y": {"datum": 26, "axis": null}}}
]
},
{
"vconcat": [
{
"hconcat": [
{
"width": 195, "height": 18,
"data": {"name": "pfl"}, "transform": [{"fold": ["A", "C", "G", "T"], "as": ["nt", "v"]}],
"mark": {"type": "bar", "width": 2.7, "opacity": 0.8, "orient": "vertical"},
"encoding": {
 "x": {"field": "p", "type": "quantitative", "scale": {"domain": [0.5, 60.5], "nice": false, "zero": false}, "axis": {"tickCount": 60, "labels": false, "tickSize": 1, "title": null}},
 "y": {"field": "v", "type": "quantitative", "stack": "zero", "scale": {"domain": [0, 0.3], "nice": false}, "axis": {"values": [0, 0.15, 0.3], "labelExpr": "datum.value == 0 ? '0.0' : format(datum.value, '.2~f')", "labelFlush": true, "labelOverlap": false, "labelFontSize": 4, "title": null}},
 "color": {"field": "nt", "type": "nominal", "scale": {"domain": ["A", "C", "G", "T"], "range": ["#2e9e44", "#3b5fc9", "#f2a93b", "#e8202a"]}, "legend": null},
 "order": {"field": "v", "sort": "ascending"}}
},
{
"width": 81, "height": 18,
"data": {"name": "pfr"}, "transform": [{"fold": ["A", "C", "G", "T"], "as": ["nt", "v"]}],
"mark": {"type": "bar", "width": 3, "opacity": 0.8, "orient": "vertical"},
"encoding": {
 "x": {"field": "p", "type": "quantitative", "scale": {"domain": [0.5, 22.5], "nice": false, "zero": false}, "axis": {"values": [5, 10, 15, 20], "labelOverlap": false, "labelFontSize": 4.5, "tickSize": 1.5, "title": null}},
 "y": {"field": "v", "type": "quantitative", "stack": "zero", "scale": {"domain": [0, 0.3], "nice": false}, "axis": {"labels": false, "ticks": false, "title": null}},
 "color": {"field": "nt", "type": "nominal", "scale": {"domain": ["A", "C", "G", "T"], "range": ["#2e9e44", "#3b5fc9", "#f2a93b", "#e8202a"]}, "legend": null},
 "order": {"field": "v", "sort": "ascending"}}
}
],
"spacing": 4.6
},
{
"hconcat": [
{
"width": 195, "height": 18,
"layer": [
{"data": {"name": "flfl"}, "transform": [{"fold": ["A", "C", "G", "T"], "as": ["nt", "v"]}],
 "mark": {"type": "bar", "width": 2.7, "opacity": 0.85, "orient": "vertical"},
 "encoding": {
  "x": {"field": "p", "type": "quantitative", "scale": {"domain": [0.5, 60.5], "nice": false, "zero": false}, "axis": {"values": [5, 10, 15, 20, 25, 30, 35, 40, 45, 50, 55, 60], "labelOverlap": false, "labelFontSize": 4.5, "tickSize": 1.5, "title": "60 nt upstream", "titleFontSize": 6.5, "titlePadding": 18.5}},
  "y": {"field": "v", "type": "quantitative", "stack": "zero", "scale": {"domain": [0, 1], "nice": false}, "axis": {"values": [0, 0.5, 1], "format": ".1f", "labelFlush": true, "labelOverlap": false, "labelFontSize": 4, "title": null}},
  "color": {"field": "nt", "type": "nominal", "scale": {"domain": ["A", "C", "G", "T"], "range": ["#2e9e44", "#3b5fc9", "#f2a93b", "#e8202a"]}, "legend": null},
  "order": {"field": "v", "sort": "ascending"}}},
{"data": {"name": "brace60"}, "mark": {"type": "line", "color": "#555555", "strokeWidth": 0.8},
 "encoding": {"x": {"field": "bx", "type": "quantitative", "axis": {"values": [5, 10, 15, 20, 25, 30, 35, 40, 45, 50, 55, 60], "labelOverlap": false, "labelFontSize": 4.5, "tickSize": 1.5, "title": "60 nt upstream", "titleFontSize": 6.5, "titlePadding": 18.5}}, "y": {"field": "by", "type": "quantitative", "axis": {"values": [0, 0.5, 1], "format": ".1f", "labelFlush": true, "labelOverlap": false, "labelFontSize": 4, "title": null}}, "order": {"field": "o"}}}
]
},
{
"width": 81, "height": 18,
"layer": [
{"data": {"name": "flfr"}, "transform": [{"fold": ["A", "C", "G", "T"], "as": ["nt", "v"]}],
 "mark": {"type": "bar", "width": 3, "opacity": 0.85, "orient": "vertical"},
 "encoding": {
  "x": {"field": "p", "type": "quantitative", "scale": {"domain": [0.5, 22.5], "nice": false, "zero": false}, "axis": {"values": [5, 10, 15, 20], "labelOverlap": false, "labelFontSize": 4.5, "tickSize": 1.5, "title": "21-22U sequence", "titleFontSize": 6.5, "titlePadding": 18.5}},
  "y": {"field": "v", "type": "quantitative", "stack": "zero", "scale": {"domain": [0, 1], "nice": false}, "axis": {"labels": false, "ticks": false, "title": null}},
  "color": {"field": "nt", "type": "nominal", "scale": {"domain": ["A", "C", "G", "T"], "range": ["#2e9e44", "#3b5fc9", "#f2a93b", "#e8202a"]}, "legend": null},
  "order": {"field": "v", "sort": "ascending"}}},
{"data": {"name": "brace22"}, "mark": {"type": "line", "color": "#555555", "strokeWidth": 0.8},
 "encoding": {"x": {"field": "bx", "type": "quantitative", "axis": {"values": [5, 10, 15, 20], "labelOverlap": false, "labelFontSize": 4.5, "tickSize": 1.5, "title": "21-22U sequence", "titleFontSize": 6.5, "titlePadding": 18.5}}, "y": {"field": "by", "type": "quantitative", "axis": {"labels": false, "ticks": false, "title": null}}, "order": {"field": "o"}}}
]
}
],
"spacing": 3.7
}
],
"spacing": 14
}
],
"spacing": 0
},
{
"hconcat": [
{
"width": 135, "height": 224,
"resolve": {"scale": {"x": "independent", "y": "independent", "color": "independent"}, "axis": {"x": "independent", "y": "independent"}},
"layer": [
{"layer": [
 {"data": {"name": "etop"}, "mark": {"type": "bar", "width": 4},
  "encoding": {
   "x": {"field": "x", "type": "quantitative", "scale": {"domain": [-6.5, 6.5], "nice": false, "zero": false}, "axis": {"orient": "bottom", "offset": -120, "values": [-6, -5, -4, -3, -2, -1, 0, 1, 2, 3, 4, 5, 6], "labelExpr": "abs(datum.value)", "labelOverlap": false, "labelFontSize": 6.5, "labelColor": "#222222", "ticks": false, "labelPadding": 1.5, "title": null}},
   "y": {"field": "v", "type": "quantitative", "scale": {"domain": [-11.54, 10], "nice": false, "zero": false}, "axis": {"orient": "left", "values": [0, 2.5, 5, 7.5, 10], "format": ".1f", "labelOverlap": false, "labelFontSize": 3.5, "domain": false, "title": "Proportion of 21/22U sequences (%)", "titleFontSize": 7, "titleFontWeight": "normal", "titlePadding": 1.5}},
   "y2": {"datum": 0},
   "color": {"field": "g", "type": "nominal", "scale": {"domain": ["3o", "5o"], "range": ["#52c7a5", "#92c5ee"]}, "legend": null}}},
 {"data": {"values": [{}]}, "mark": {"type": "rule", "color": "#8c8c8c", "strokeWidth": 0.8},
  "encoding": {"x": {"datum": -6.5, "axis": {"orient": "bottom", "offset": -120, "values": [-6, -5, -4, -3, -2, -1, 0, 1, 2, 3, 4, 5, 6], "labelExpr": "abs(datum.value)", "labelOverlap": false, "labelFontSize": 6.5, "labelColor": "#222222", "ticks": false, "labelPadding": 1.5, "title": null}}, "y": {"datum": 0, "axis": {"orient": "left", "values": [0, 2.5, 5, 7.5, 10], "format": ".1f", "labelOverlap": false, "labelFontSize": 3.5, "domain": false, "title": "Proportion of 21/22U sequences (%)", "titleFontSize": 7, "titleFontWeight": "normal", "titlePadding": 1.5}}, "y2": {"datum": 10}}},
 {"data": {"values": [{}]}, "mark": {"type": "text", "text": "e", "fontSize": 8, "fontWeight": "bold", "align": "left", "baseline": "middle"},
  "encoding": {"x": {"datum": -8.23, "axis": {"orient": "bottom", "offset": -120, "values": [-6, -5, -4, -3, -2, -1, 0, 1, 2, 3, 4, 5, 6], "labelExpr": "abs(datum.value)", "labelOverlap": false, "labelFontSize": 6.5, "labelColor": "#222222", "ticks": false, "labelPadding": 1.5, "title": null}}, "y": {"datum": 11.35, "axis": {"orient": "left", "values": [0, 2.5, 5, 7.5, 10], "format": ".1f", "labelOverlap": false, "labelFontSize": 3.5, "domain": false, "title": "Proportion of 21/22U sequences (%)", "titleFontSize": 7, "titleFontWeight": "normal", "titlePadding": 1.5}}}}
]},
{"layer": [
 {"data": {"name": "ebot"}, "mark": {"type": "bar", "width": 4},
  "encoding": {
   "x": {"field": "x", "type": "quantitative", "scale": {"domain": [-6.5, 6.5], "nice": false, "zero": false}, "axis": {"orient": "top", "offset": -115, "values": [-6, -5, -4, -3, -2, -1, 0, 1, 2, 3, 4, 5, 6], "labels": false, "tickSize": 1.5, "title": null}},
   "y": {"field": "v", "type": "quantitative", "scale": {"domain": [-10.55, 10], "nice": false, "zero": false, "reverse": true}, "axis": {"orient": "left", "values": [0, 2.5, 5, 7.5, 10], "format": ".1f", "labelOverlap": false, "labelFontSize": 3.5, "domain": false, "title": null}},
   "y2": {"datum": 0},
   "color": {"field": "g", "type": "nominal", "scale": {"domain": ["3u", "5u", "dk", "lt"], "range": ["#23615d", "#768f0d", "#17332f", "#c8c8c8"]}, "legend": null}}},
 {"data": {"values": [{}]}, "mark": {"type": "rule", "color": "#8c8c8c", "strokeWidth": 0.8},
  "encoding": {"x": {"datum": -6.5, "axis": {"orient": "top", "offset": -115, "values": [-6, -5, -4, -3, -2, -1, 0, 1, 2, 3, 4, 5, 6], "labels": false, "tickSize": 1.5, "title": null}}, "y": {"datum": 0, "axis": {"orient": "left", "values": [0, 2.5, 5, 7.5, 10], "format": ".1f", "labelOverlap": false, "labelFontSize": 3.5, "domain": false, "title": null}}, "y2": {"datum": 10}}}
]}
]
},
{
"vconcat": [
{
"width": 116, "height": 140,
"data": {"name": "pie"},
"mark": {"type": "arc", "radius": 58, "stroke": "#ffffff", "strokeWidth": 0.8},
"encoding": {
 "theta": {"field": "pct", "type": "quantitative", "stack": true},
 "color": {"field": "len", "type": "nominal", "scale": {"domain": ["18nt", "19nt", "20nt", "21nt", "22nt", "23nt", "24nt", "27nt", "28nt"], "range": ["#f4fbec", "#e1f3da", "#cdebc5", "#a6dca8", "#7ccfbc", "#5ab8d8", "#3f8ec9", "#2a62b3", "#1b3e8c"]},
  "legend": {"title": "Passenger length", "orient": "none", "legendX": 116, "legendY": 30, "symbolType": "square", "symbolSize": 36, "labelFontSize": 3.8, "titleFontSize": 5, "rowPadding": 2.4, "titlePadding": 3, "symbolStrokeWidth": 0}},
 "order": {"field": "n", "sort": "descending"}}
},
{
"width": 126, "height": 37,
"layer": [
{"data": {"name": "diag"}, "mark": {"type": "bar", "orient": "horizontal", "height": 1.8},
 "encoding": {"x": {"field": "x1", "type": "quantitative", "scale": {"domain": [0, 42], "nice": false, "zero": false}, "axis": null}, "x2": {"field": "x2"},
  "y": {"field": "y", "type": "quantitative", "scale": {"domain": [0, 37], "nice": false, "zero": false, "reverse": true}, "axis": null},
  "color": {"field": "c", "type": "nominal", "scale": {"domain": ["21 or 22U", "Passenger strand", "5' overhang", "3' overhang", "5' underhang", "3' underhang"], "range": ["#1a1a1a", "#e8262a", "#9ecbef", "#5fd0c0", "#758c0d", "#2f6f6e"]},
   "legend": {"title": null, "orient": "none", "legendX": 142, "legendY": -2, "symbolType": "M-1,-0.42H1V0.42H-1Z", "symbolSize": 36, "labelFontSize": 4.5, "rowPadding": 0, "labelOffset": 2}}}},
{"data": {"name": "endsR"}, "mark": {"type": "text", "fontSize": 7, "fontStyle": "italic", "align": "right", "baseline": "middle", "color": "#222222"},
 "encoding": {"x": {"field": "x", "type": "quantitative", "axis": null}, "y": {"field": "y", "type": "quantitative", "axis": null}, "text": {"field": "t"}}},
{"data": {"name": "endsL"}, "mark": {"type": "text", "fontSize": 7, "fontStyle": "italic", "align": "left", "baseline": "middle", "color": "#222222"},
 "encoding": {"x": {"field": "x", "type": "quantitative", "axis": null}, "y": {"field": "y", "type": "quantitative", "axis": null}, "text": {"field": "t"}}}
]
}
],
"spacing": 45,
"resolve": {"scale": {"color": "independent"}, "legend": {"color": "independent"}}
}
],
"spacing": 26.4,
"resolve": {"scale": {"color": "independent"}, "legend": {"color": "independent"}}
}
],
"spacing": 70.5,
"resolve": {"scale": {"color": "independent"}, "legend": {"color": "independent"}}
}
],
"spacing": 16.5,
"resolve": {"scale": {"color": "independent"}, "legend": {"color": "independent"}}
}
],
"config": {
 "font": "Liberation Sans",
 "view": {"stroke": null},
 "axis": {"grid": false, "labelOverlap": false, "domainColor": "#8c8c8c", "domainWidth": 0.8, "tickColor": "#8c8c8c", "tickWidth": 0.6, "tickSize": 2, "labelColor": "#333333", "labelFontSize": 3.8, "labelPadding": 1, "titleColor": "#1a1a1a", "titleFontSize": 6, "titleFontWeight": "bold", "titlePadding": 2},
 "legend": {"padding": 0, "labelColor": "#222222", "titleColor": "#222222", "titleFontWeight": "normal", "symbolStrokeWidth": 0, "labelLimit": 200}
}
}
